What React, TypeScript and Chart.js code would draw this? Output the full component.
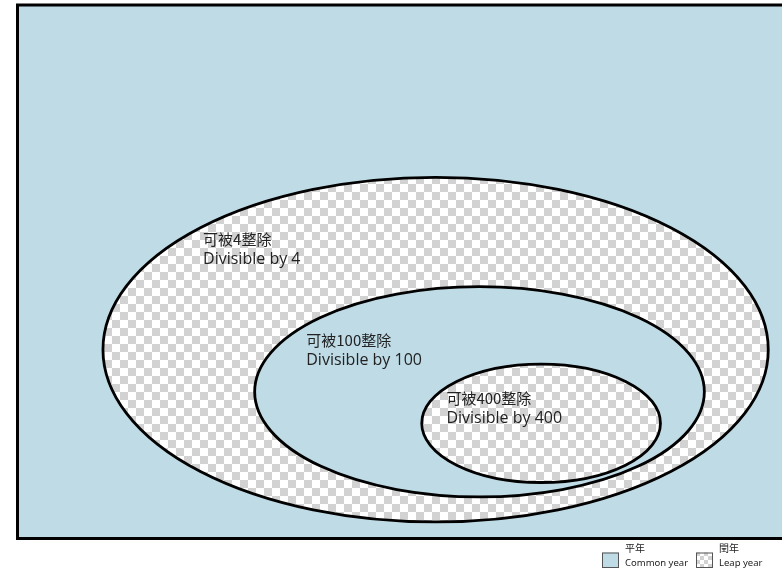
import React, { useEffect, useRef } from "react";
import { Chart, registerables } from "chart.js";

Chart.register(...registerables);

// ---- data (abstract diagram units: x 0..100, y 0..100) ----
const setNames = ["Divisible by 4", "Divisible by 100", "Divisible by 400"];
const setCx = [54.3, 60.0, 68.0];
const setCy = [35.4, 27.5, 21.6];
const setRx = [43.2, 29.2, 15.5];
const setRy = [32.3, 19.7, 11.1];
const setIsLeap = [true, false, true];

const labelZh = ["可被4整除", "可被100整除", "可被400整除"];
const labelEn = ["Divisible by 4", "Divisible by 100", "Divisible by 400"];
const labelX = [24.1, 37.5, 55.7];
const labelY = [56.0, 37.1, 26.2];

const legendZh = ["平年", "閏年"];
const legendEn = ["Common year", "Leap year"];
const legendIsLeap = [false, true];

// ---- styles ----
const BLUE = "#bedbe6";
const CHECK_GRAY = "#d2d2d2";
const TEXT = "#222222";

function makePattern(ctx: CanvasRenderingContext2D, size: number) {
  const c = document.createElement("canvas");
  c.width = size * 2;
  c.height = size * 2;
  const g = c.getContext("2d")!;
  g.fillStyle = "#ffffff";
  g.fillRect(0, 0, size * 2, size * 2);
  g.fillStyle = CHECK_GRAY;
  g.fillRect(0, 0, size, size);
  g.fillRect(size, size, size, size);
  return ctx.createPattern(c, "repeat")!;
}

const vennPlugin = {
  id: "vennPlugin",
  beforeDatasetsDraw(chart: any) {
    const { ctx, chartArea: a, scales } = chart;
    const xs = scales.x;
    const ys = scales.y;
    const pattern = makePattern(ctx, 8);
    ctx.save();
    ctx.fillStyle = BLUE;
    ctx.fillRect(a.left, a.top, a.right - a.left, a.bottom - a.top);

    for (let i = 0; i < setNames.length; i++) {
      const px = xs.getPixelForValue(setCx[i]);
      const py = ys.getPixelForValue(setCy[i]);
      const rx = Math.abs(xs.getPixelForValue(setCx[i] + setRx[i]) - px);
      const ry = Math.abs(ys.getPixelForValue(setCy[i] + setRy[i]) - py);
      ctx.beginPath();
      ctx.ellipse(px, py, rx, ry, 0, 0, Math.PI * 2);
      ctx.fillStyle = setIsLeap[i] ? pattern : BLUE;
      ctx.fill();
      ctx.lineWidth = 2.8;
      ctx.strokeStyle = "#000";
      ctx.stroke();
    }

    ctx.fillStyle = TEXT;
    ctx.textAlign = "left";
    ctx.textBaseline = "middle";
    for (let i = 0; i < labelZh.length; i++) {
      const px = xs.getPixelForValue(labelX[i]);
      const py = ys.getPixelForValue(labelY[i]);
      ctx.font = "15px 'Noto Sans CJK TC', 'Open Sans', sans-serif";
      ctx.fillText(labelZh[i], px, py);
      ctx.font = "16px 'Open Sans', 'Noto Sans', sans-serif";
      ctx.fillText(labelEn[i], px, py + 19.5);
    }

    ctx.lineWidth = 3;
    ctx.strokeStyle = "#000";
    ctx.strokeRect(a.left, a.top, a.right - a.left, a.bottom - a.top);

    // legend
    const small = makePattern(ctx, 4);
    const boxY = a.bottom + 14;
    const starts = [602, 696];
    for (let i = 0; i < legendZh.length; i++) {
      const bx = starts[i];
      ctx.fillStyle = legendIsLeap[i] ? small : BLUE;
      ctx.fillRect(bx, boxY, 17, 15.5);
      ctx.lineWidth = 1;
      ctx.strokeStyle = "#555";
      ctx.strokeRect(bx + 0.5, boxY + 0.5, 16, 14.5);
      ctx.fillStyle = TEXT;
      ctx.font = "10px 'Noto Sans CJK TC', sans-serif";
      ctx.fillText(legendZh[i], bx + 23, boxY - 4.5);
      ctx.font = "9.5px 'Noto Sans', 'Open Sans', sans-serif";
      ctx.fillText(legendEn[i], bx + 23, boxY + 11);
    }
    ctx.restore();
  },
};

export default function App() {
  const ref = useRef<HTMLCanvasElement | null>(null);
  useEffect(() => {
    if (!ref.current) return;
    const chart = new Chart(ref.current, {
      type: "scatter",
      data: {
        datasets: [
          {
            label: "centers",
            data: setCx.map((cx, i) => ({ x: cx, y: setCy[i] })),
            pointRadius: 0,
            pointHoverRadius: 0,
          },
        ],
      },
      options: {
        animation: false,
        responsive: false,
        events: [],
        layout: { padding: { left: 17.5, top: 5, right: 12.5, bottom: 33.5 } },
        scales: {
          x: { type: "linear", min: 0, max: 100, display: false },
          y: { type: "linear", min: 0, max: 100, display: false },
        },
        plugins: {
          legend: { display: false },
          tooltip: { enabled: false },
        },
      },
      plugins: [vennPlugin],
    });
    return () => chart.destroy();
  }, []);
  return (
    <div
      style={{
        position: "fixed",
        left: 0,
        top: 0,
        width: 782,
        height: 572,
        overflow: "hidden",
        background: "#ffffff",
      }}
    >
      <canvas ref={ref} width={800} height={572} style={{ display: "block" }} />
    </div>
  );
}
